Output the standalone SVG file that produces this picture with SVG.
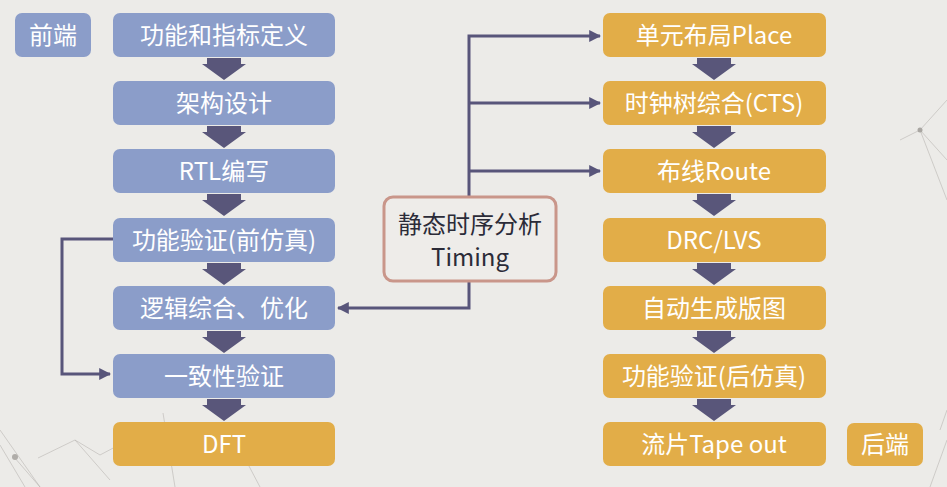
<svg xmlns="http://www.w3.org/2000/svg" width="947" height="487" viewBox="0 0 947 487">
<defs>
<style>
.bg{fill:#ecebe8}
.blue{fill:#8b9dc9}
.org{fill:#e2ad48}
.t{font-family:"Noto Sans CJK SC","Noto Sans",sans-serif;font-size:24px;fill:#ffffff;text-anchor:middle}
.dk{fill:#2b2b38}
.line{fill:none;stroke:#58557a;stroke-width:3}
.chev{fill:#59567a}
.deco{fill:none;stroke:#b5b2ae;stroke-width:0.8;opacity:0.7}
</style>
<marker id="ah" viewBox="0 0 10 10" refX="9" refY="5" markerWidth="4" markerHeight="4" markerUnits="strokeWidth" orient="auto">
<path d="M0,0 L10,5 L0,10 Z" fill="#58557a"/>
</marker>
<path id="ch" d="M-17,0 H17 V6 H22 L0,22 L-22,6 H-17 Z"/>
</defs>
<rect class="bg" width="947" height="487"/>
<g id="decoration">
<path class="deco" d="M0,430 L40,487 M14,457 L40,487 M0,445 L25,487 M38,458 L75,440 L110,480 M75,440 L100,455 L117,446 M163,413 L175,487 M117,446 L150,460 M230,430 L260,487"/>
<path class="deco" d="M947,100 L920,130 L947,200 M920,130 L900,140 M920,130 L947,160 M940,430 L947,410 M930,487 L947,440"/>
<circle cx="920" cy="130" r="2.5" fill="#a9a6a2"/>
<circle cx="15" cy="457" r="3" fill="#b0ada9"/>
</g>
<g id="connectors">
<path class="line" d="M113,239 H62 V374 H110" marker-end="url(#ah)"/>
<path class="line" d="M469,197 V36 H600" marker-end="url(#ah)"/>
<path class="line" d="M469,103 H600" marker-end="url(#ah)"/>
<path class="line" d="M469,171 H600" marker-end="url(#ah)"/>
<path class="line" d="M469,282 V308 H338" marker-end="url(#ah)"/>
<g class="chev">
<use href="#ch" x="224" y="58"/>
<use href="#ch" x="224" y="126"/>
<use href="#ch" x="224" y="194"/>
<use href="#ch" x="224" y="263"/>
<use href="#ch" x="224" y="331"/>
<use href="#ch" x="224" y="399"/>
<use href="#ch" x="714" y="58"/>
<use href="#ch" x="714" y="126"/>
<use href="#ch" x="714" y="194"/>
<use href="#ch" x="714" y="263"/>
<use href="#ch" x="714" y="331"/>
<use href="#ch" x="714" y="399"/>
</g>
</g>
<g id="frontend-label"><rect class="blue" x="15" y="13" width="76" height="44" rx="7"/><text class="t" x="53" y="43.5">前端</text></g>
<g id="n1"><rect class="blue" x="113" y="13" width="222" height="44" rx="7"/><text class="t" x="224" y="43.5">功能和指标定义</text></g>
<g id="n2"><rect class="blue" x="113" y="81" width="222" height="44" rx="7"/><text class="t" x="224" y="111.5">架构设计</text></g>
<g id="n3"><rect class="blue" x="113" y="149" width="222" height="44" rx="7"/><text class="t" x="224" y="179.5">RTL编写</text></g>
<g id="n4"><rect class="blue" x="113" y="218" width="222" height="44" rx="7"/><text class="t" x="224" y="248.5">功能验证(前仿真)</text></g>
<g id="n5"><rect class="blue" x="113" y="286" width="222" height="44" rx="7"/><text class="t" x="224" y="316.5">逻辑综合、优化</text></g>
<g id="n6"><rect class="blue" x="113" y="354" width="222" height="44" rx="7"/><text class="t" x="224" y="384.5">一致性验证</text></g>
<g id="n7"><rect class="org" x="113" y="422" width="222" height="44" rx="7"/><text class="t" x="224" y="452.5">DFT</text></g>
<g id="timing"><rect x="384" y="197" width="172" height="84" rx="9" fill="#eeece9" stroke="#c9968a" stroke-width="3"/><text class="t dk" x="470" y="233">静态时序分析</text><text class="t dk" x="470" y="266">Timing</text></g>
<g id="m1"><rect class="org" x="603" y="13" width="223" height="44" rx="7"/><text class="t" x="714" y="43.5">单元布局Place</text></g>
<g id="m2"><rect class="org" x="603" y="81" width="223" height="44" rx="7"/><text class="t" x="714" y="111.5">时钟树综合(CTS)</text></g>
<g id="m3"><rect class="org" x="603" y="149" width="223" height="44" rx="7"/><text class="t" x="714" y="179.5">布线Route</text></g>
<g id="m4"><rect class="org" x="603" y="218" width="223" height="44" rx="7"/><text class="t" x="714" y="248.5">DRC/LVS</text></g>
<g id="m5"><rect class="org" x="603" y="286" width="223" height="44" rx="7"/><text class="t" x="714" y="316.5">自动生成版图</text></g>
<g id="m6"><rect class="org" x="603" y="354" width="223" height="44" rx="7"/><text class="t" x="714" y="384.5">功能验证(后仿真)</text></g>
<g id="m7"><rect class="org" x="603" y="422" width="223" height="44" rx="7"/><text class="t" x="714" y="452.5">流片Tape out</text></g>
<g id="backend-label"><rect class="org" x="847" y="423" width="76" height="43" rx="7"/><text class="t" x="885" y="453">后端</text></g>
</svg>
